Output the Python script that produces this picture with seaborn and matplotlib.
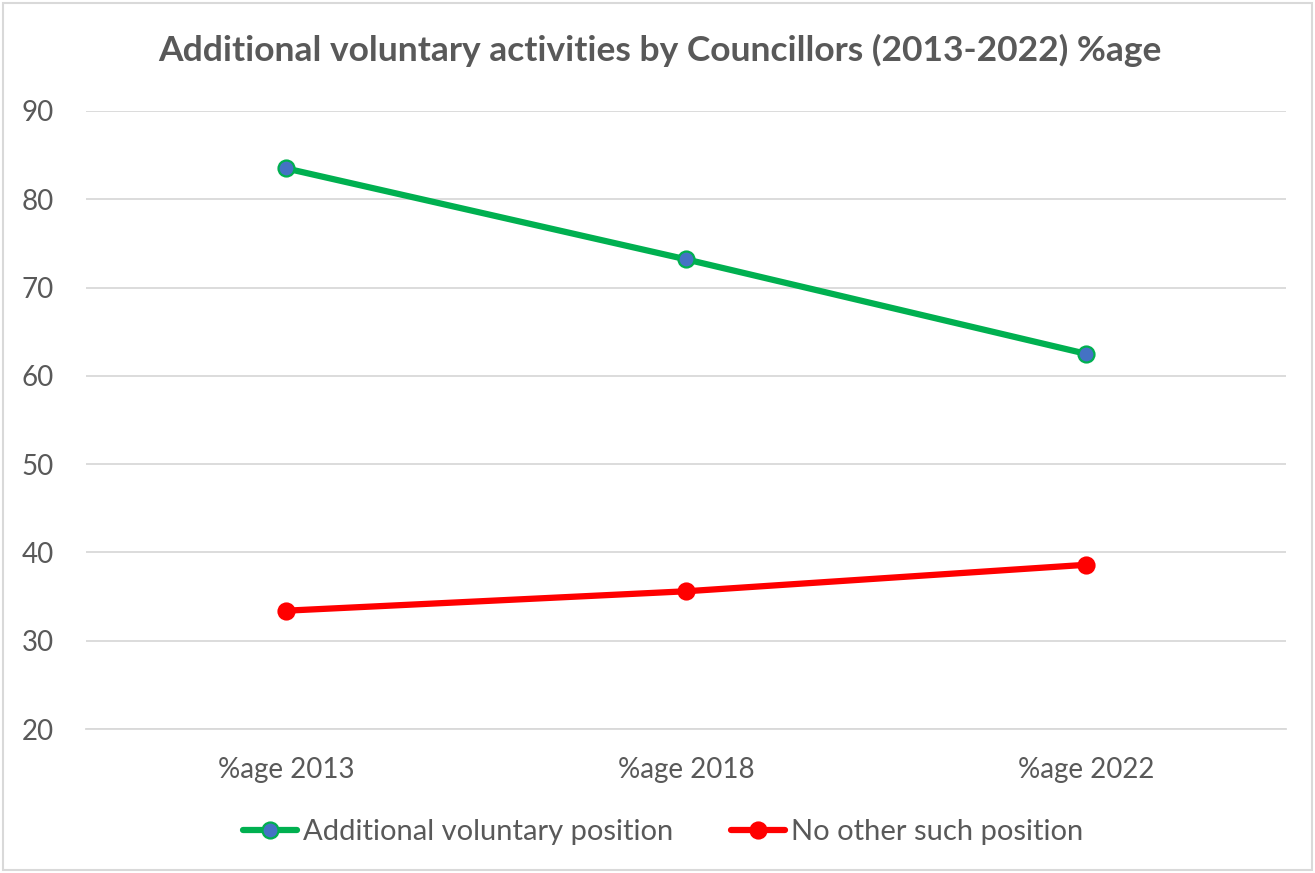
import matplotlib
matplotlib.use("Agg")
import matplotlib.pyplot as plt
import seaborn as sns
import pandas as pd
from matplotlib.patches import Rectangle

categories = ["%age 2013", "%age 2018", "%age 2022"]
additional = [83.5, 73.2, 62.5]
no_other = [33.4, 35.6, 38.6]
series_names = ["Additional voluntary position", "No other such position"]
yticks = [20, 30, 40, 50, 60, 70, 80, 90]

sns.set_style("white")
plt.rcParams["font.family"] = ["Lato", "DejaVu Sans"]

df = pd.DataFrame({
    "cat": categories * 2,
    "val": additional + no_other,
    "series": [series_names[0]] * 3 + [series_names[1]] * 3,
})
df["x"] = list(range(3)) * 2

fig = plt.figure(figsize=(13.15, 8.73), dpi=100)
ax = fig.add_axes([86 / 1315, 1 - 729 / 873, 1200 / 1315, 618 / 873])

txt = "#595959"
green = "#00B050"
red = "#FF0000"

sns.lineplot(data=df[df.series == series_names[0]], x="x", y="val", ax=ax,
             color=green, lw=4.5, marker="o", markersize=11.5,
             markerfacecolor="#4472C4", markeredgecolor=green, markeredgewidth=1.6,
             label=series_names[0])
sns.lineplot(data=df[df.series == series_names[1]], x="x", y="val", ax=ax,
             color=red, lw=4.5, marker="o", markersize=11.5,
             markerfacecolor=red, markeredgecolor=red, markeredgewidth=1.6,
             label=series_names[1])

ax.set_xlim(-0.5, 2.5)
ax.set_ylim(20, 90)
ax.set_yticks(yticks)
ax.set_xticks(range(3))
ax.set_xticklabels(categories)
ax.set_xlabel("")
ax.set_ylabel("")
ax.grid(axis="y", color="#D9D9D9", lw=1.3)
ax.set_axisbelow(True)
for s in ["top", "right", "left"]:
    ax.spines[s].set_visible(False)
ax.spines["bottom"].set_color("#D9D9D9")
ax.spines["bottom"].set_linewidth(1.3)
ax.tick_params(axis="both", length=0, labelsize=20, labelcolor=txt)
ax.tick_params(axis="y", pad=23)
ax.tick_params(axis="x", pad=20)

fig.text(660 / 1315, 1 - 50 / 873, "Additional voluntary activities by Councillors (2013-2022) %age",
         ha="center", va="center", fontsize=25.5, fontweight="bold", color=txt)

leg = ax.legend(loc="center", bbox_to_anchor=(663 / 1315, 1 - 832 / 873),
                bbox_transform=fig.transFigure, ncol=2, frameon=False,
                fontsize=21, labelcolor=txt, handlelength=1.85, handletextpad=0.2,
                columnspacing=2.0)

fig.patches.append(Rectangle((3 / 1315, 3 / 873), 1 - 6 / 1315, 1 - 6 / 873,
                             transform=fig.transFigure, fill=False,
                             edgecolor="#D9D9D9", lw=1.5))

fig.savefig("out.png", dpi=100)
